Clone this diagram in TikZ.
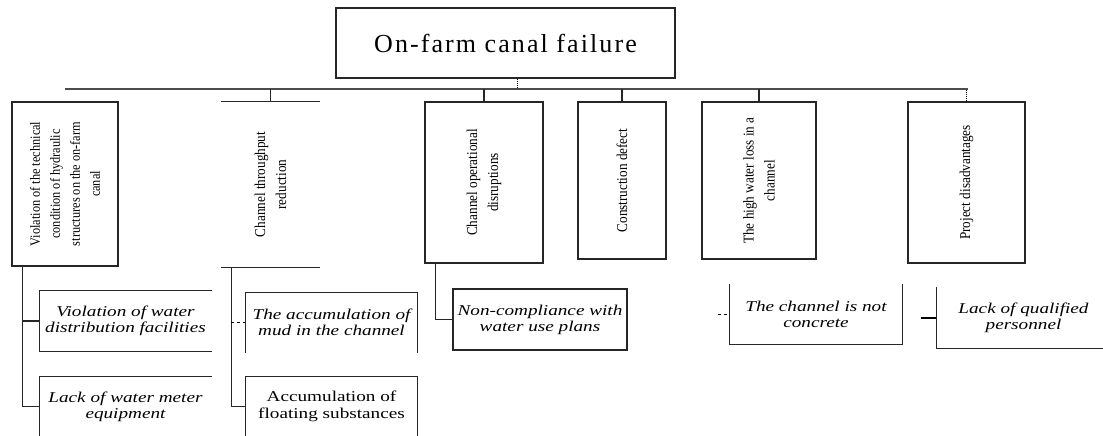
\documentclass[tikz,border=0pt]{standalone}
\usepackage{fontspec}
\setmainfont{Liberation Serif}
\newfontfamily\narrowrm[FakeStretch=0.88]{Liberation Serif}
\newfontfamily\widerm[FakeStretch=1.28]{Liberation Serif}
\newfontfamily\titlerm[LetterSpace=8]{Liberation Serif}
\usetikzlibrary{calc}
\newcommand{\vlab}[1]{\rotatebox{90}{\parbox{150pt}{\centering #1}}}

\begin{document}
\begin{tikzpicture}[x=1pt,y=-1pt,line width=1.1pt,
  frame/.style={draw=black!85,inner sep=0pt},
  bare/.style={inner sep=0pt},
  vlabel/.style={font=\narrowrm\fontsize{15}{21}\selectfont},
  ilabel/.style={font=\widerm\itshape\fontsize{15}{16}\selectfont,align=center},
  rlabel/.style={font=\widerm\fontsize{15}{17}\selectfont,align=center}]
\useasboundingbox (0,0) rectangle (1103,436);

\node[frame,minimum width=339,minimum height=70,font=\titlerm\fontsize{26}{30}\selectfont] (top) at (505.5,43) {On-farm canal failure};

\node[frame,vlabel,minimum width=106,minimum height=164,font=\narrowrm\fontsize{14}{20}\selectfont] (viol) at (65,184) {\vlab{Violation of the technical\\condition of hydraulic\\structures on the on-farm\\canal}};
\node[bare,vlabel,minimum width=97,minimum height=165] (thr) at (270.5,184.5) {\vlab{Channel throughput\\reduction}};
\node[frame,vlabel,minimum width=118,minimum height=161] (oper) at (484,182.5) {\vlab{Channel operational\\disruptions}};
\node[frame,vlabel,minimum width=88,minimum height=157] (constr) at (622,180.5) {\vlab{Construction defect}};
\node[frame,vlabel,minimum width=114,minimum height=157] (loss) at (759,180.5) {\vlab{The high water loss in a\\channel}};
\node[frame,vlabel,minimum width=117,minimum height=161] (proj) at (966.5,182.5) {\vlab{Project disadvantages}};
\draw[black!85] (thr.north west) -- (thr.north east) (thr.south west) -- (thr.south east);

\coordinate (busL) at (65,89);
\coordinate (busR) at (968,89);
\draw[black!70] (busL) -- (busR);
\foreach \n in {thr,oper,constr,loss}
  \draw[black!85] (\n.north) -- (\n.north |- busL);
\draw[densely dotted] (proj.north) -- (proj.north |- busR);
\coordinate (topdot) at ($(top.south)+(12,0)$);
\draw[densely dotted] (topdot) -- (topdot |- busL);

\node[bare,ilabel,minimum width=171,minimum height=60] (c1a) at (125.5,321) {Violation of water\\distribution facilities};
\draw[black!85] (c1a.north east) -- (c1a.north west) -- (c1a.south west) -- (c1a.south east);
\node[bare,ilabel,minimum width=171,minimum height=59] (c1b) at (125.5,406.5) {Lack of water meter\\equipment};
\draw[black!85] (c1b.north east) -- (c1b.north west) -- (c1b.south west);
\node[bare,ilabel,minimum width=171,minimum height=59] (c2a) at (331.5,322.5) {The accumulation of\\mud in the channel};
\draw[black!85] (c2a.south west) -- (c2a.north west) -- (c2a.north east) -- (c2a.south east);
\node[bare,rlabel,minimum width=171,minimum height=59] (c2b) at (331.5,406.5) {Accumulation of\\floating substances};
\draw[black!85] (c2b.south west) -- (c2b.north west) -- (c2b.north east) -- (c2b.south east);
\node[frame,ilabel,minimum width=174,minimum height=61] (c3) at (540,319.5) {Non-compliance with\\water use plans};
\node[bare,ilabel,minimum width=172,minimum height=59] (c5) at (816,314.5) {The channel is not\\concrete};
\draw[black!85] (c5.north west) -- (c5.south west) -- (c5.south east) -- (c5.north east);
\node[bare,ilabel,minimum width=173,minimum height=60] (c6) at (1023.5,318) {Lack of qualified\\personnel};
\draw[black!85] (c6.north west) -- (c6.south west) -- (c6.south east);

\coordinate (violcol) at ($(viol.south west)+(11,0)$);
\draw[black!85] (violcol) |- (c1b.west);
\draw[black!85] (violcol |- c1a.west) -- (c1a.west);
\coordinate (thrcol) at ($(thr.south west)+(10,0)$);
\draw[black!85] (thrcol) |- (c2b.west);
\draw[dash pattern=on 3pt off 3pt] (thrcol |- c2a.west) -- (c2a.west);
\coordinate (opercol) at ($(oper.south west)+(11,0)$);
\draw[black!85] (opercol) |- (c3.west);
\coordinate (lossend) at (718,314.5);
\draw[dash pattern=on 3pt off 3pt] (lossend) -- (c5.west);
\coordinate (projend) at (921,318);
\draw (projend) -- (c6.west);
\end{tikzpicture}
\end{document}
